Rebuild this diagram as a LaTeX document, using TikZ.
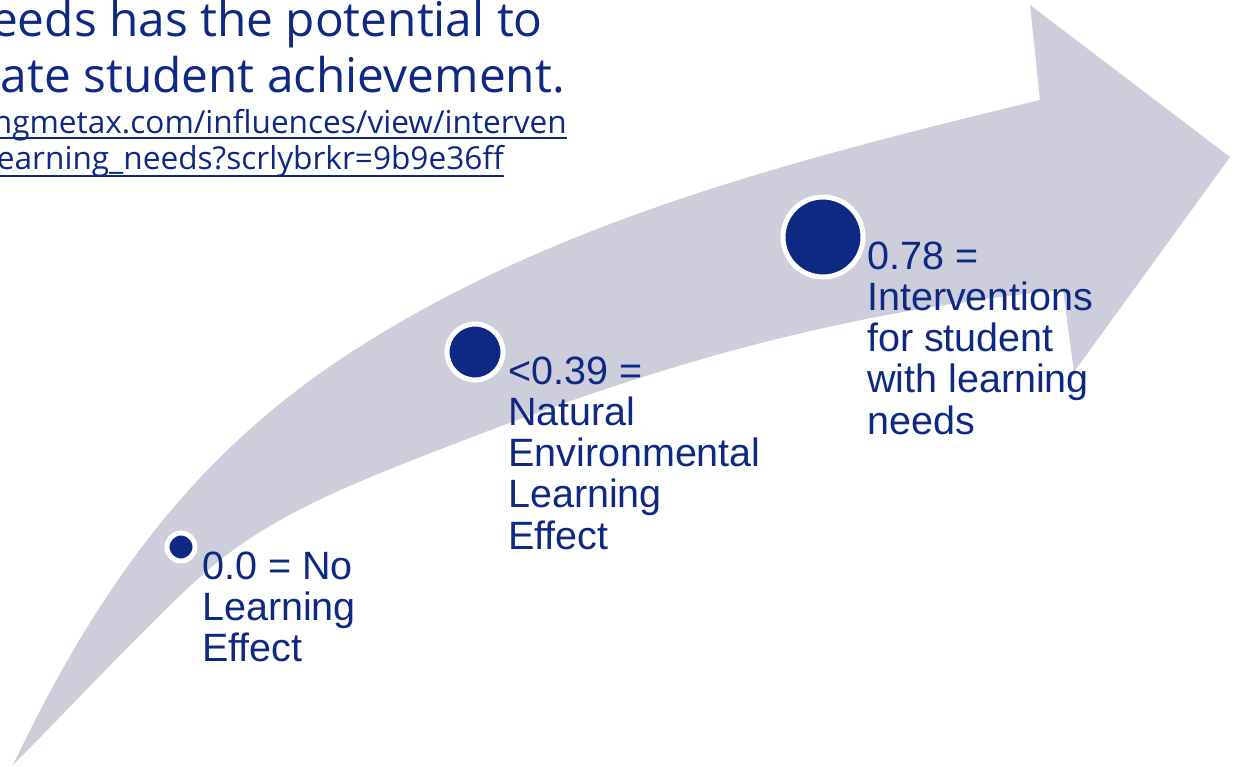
\documentclass[tikz,border=0pt]{standalone}
\usepackage{fontspec}
\setmainfont{Liberation Sans}
\newfontfamily\osans{Open Sans}
\definecolor{navy}{RGB}{14,41,132}
\definecolor{arrowgray}{RGB}{205,205,219}
\begin{document}
\begin{tikzpicture}[x=1pt,y=-1pt,
  lbl/.style={font=\fontsize{39.5}{41.3}\selectfont, text=navy, anchor=base west, inner sep=0pt, align=left},
  dot/.style={circle, fill=navy, draw=white, line width=5pt, inner sep=0pt},
  headtxt/.style={font=\osans\fontsize{47.8}{56}\selectfont, text=navy, anchor=base east, inner sep=0pt},
  linktxt/.style={font=\osans\fontsize{31.6}{36}\selectfont, text=navy, anchor=base east, inner sep=0pt},
  uline/.style={draw=navy, line width=2pt}]
\useasboundingbox (0,0) rectangle (1237,766);
% curved arrow
\fill[arrowgray] (13,765)
  .. controls (103,576) and (202,449) .. (350,353)
  .. controls (555,219.5) and (802,158) .. (1040,100)
  -- (1030,5) -- (1230,157) -- (1074,372) -- (1063,290)
  .. controls (803,315) and (604,385) .. (418,458)
  .. controls (341.6,488) and (261,521) .. (200,577)
  .. controls (155,617) and (55,723) .. (13,765) -- cycle;
% dots
\node[dot, minimum size=28pt] (c1) at (181,547) {};
\node[dot, minimum size=56pt] (c2) at (475,352) {};
\node[dot, minimum size=80pt] (c3) at (823,237) {};
% labels (anchor at baseline of the last line)
\node[lbl] (l1) at (202,661.6) {0.0 = No\\Learning\\Effect};
\node[lbl] (l2) at (508,549.2) {<0.39 =\\Natural\\Environmental\\Learning\\Effect};
\node[lbl] (l3) at (867,434.2) {0.78 =\\Interventions\\for student\\with learning\\needs};
% heading text
\node[headtxt] (t1) at (543,36) {eeds has the potential to};
\node[headtxt] (t2) at (565,92) {ate student achievement.};
\node[linktxt] (u1) at (567,133) {ngmetax.com/influences/view/interven};
\node[linktxt] (u2) at (504,169) {earning\_needs?scrlybrkr=9b9e36ff};
\draw[uline] ([yshift=-5pt]u1.base west) -- ([yshift=-5pt]u1.base east);
\draw[uline] ([yshift=-7pt]u2.base west) -- ([yshift=-7pt]u2.base east);
\end{tikzpicture}
\end{document}
